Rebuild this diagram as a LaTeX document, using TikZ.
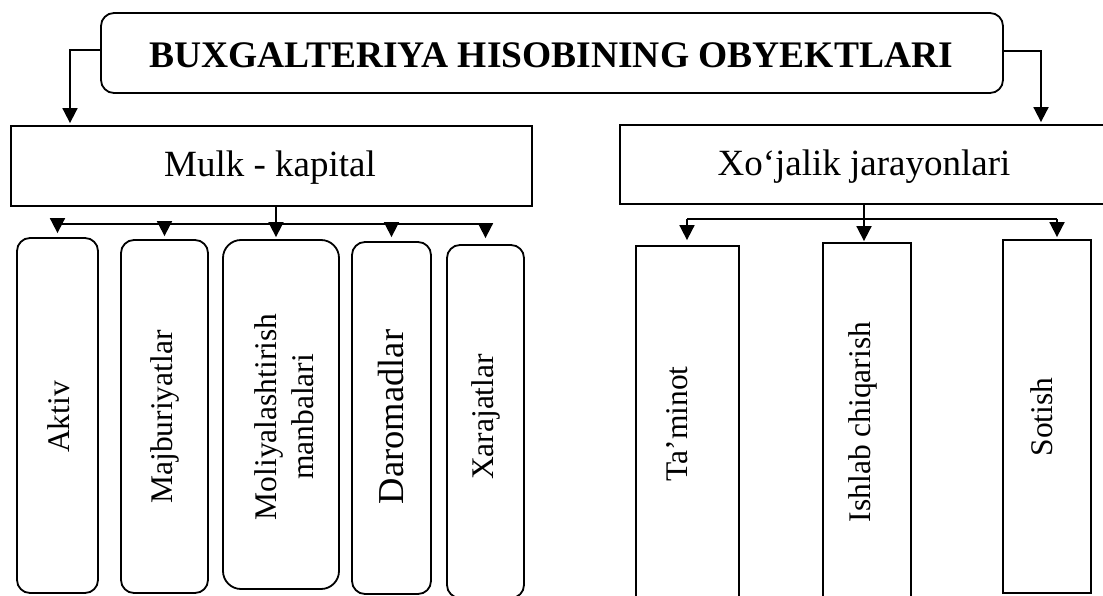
\documentclass[tikz,border=0pt]{standalone}
\usepackage{fontspec}
\setmainfont{Liberation Serif}
\usetikzlibrary{arrows.meta}

\begin{document}
\begin{tikzpicture}[x=1pt,y=-1pt,
  line width=1.8pt,
  frame/.style={draw, inner sep=0pt},
  rframe/.style={frame, rounded corners=13pt},
  arr/.style={-{Triangle[width=15pt,length=15pt]}},
  bigtext/.style={font=\fontsize{37}{42}\selectfont},
  vtext/.style={rotate=90, inner sep=0pt, align=center, font=\fontsize{31.5}{37}\selectfont}
]
\useasboundingbox (0,0) rectangle (1103,596);
\clip (0,0) rectangle (1103,596);

% title and the two groups
\node[rframe, minimum width=902pt, minimum height=80pt] (title) at (552,53) {};
\node[bigtext, font=\fontsize{37.5}{42}\selectfont\bfseries] (titleT) at (551,55) {BUXGALTERIYA HISOBINING OBYEKTLARI};

\node[frame, minimum width=521pt, minimum height=80pt] (mulk) at (271.5,166) {};
\node[bigtext] (mulkT) at (270,168) {Mulk - kapital};

\node[frame, minimum width=488pt, minimum height=79pt] (xoj) at (864,164.5) {};
\node[bigtext] (xojT) at (864,167) {Xo‘jalik jarayonlari};

% left group items
\node[rframe, minimum width=81pt, minimum height=355pt] (aktiv) at (57.5,415.5) {};
\node[vtext] (aktivT) at (59,417) {Aktiv};
\node[rframe, minimum width=87pt, minimum height=353pt] (majb) at (164.5,416.5) {};
\node[vtext] (majbT) at (164.5,417) {Majburiyatlar};
\node[rframe, rounded corners=18pt, minimum width=116pt, minimum height=349pt] (moliya) at (281,414.5) {};
\node[vtext] (moliyaT) at (284,417) {Moliyalashtirish\\manbalari};
\node[rframe, minimum width=79pt, minimum height=352pt] (darom) at (391.5,418) {};
\node[vtext, font=\fontsize{36.5}{40}\selectfont] (daromT) at (391,417) {Daromadlar};
\node[rframe, minimum width=77pt, minimum height=353pt] (xaraj) at (485.5,421.5) {};
\node[vtext] (xarajT) at (485.5,417) {Xarajatlar};

% right group items
\node[frame, minimum width=103pt, minimum height=364pt] (tamin) at (687.5,428) {};
\node[vtext] (taminT) at (677,424) {Ta’minot};
\node[frame, minimum width=88pt, minimum height=367pt] (ishlab) at (867,426.5) {};
\node[vtext] (ishlabT) at (863,422) {Ishlab chiqarish};
\node[frame, minimum width=88pt, minimum height=353pt] (sotish) at (1047,416.5) {};
\node[vtext] (sotishT) at (1042,417) {Sotish};

% branch columns and bus levels
\coordinate (lcol) at (70,0);
\coordinate (rcol) at (1041,0);
\coordinate (lbus) at (0,224);
\coordinate (lstem) at (276,224);
\coordinate (rb1) at (687,219);
\coordinate (rb3) at (1057,219);

% title to groups
\draw[arr, shorten >=2pt] ([yshift=3pt]title.west) -| (lcol |- mulk.north);
\draw[arr, shorten >=2pt] ([yshift=2pt]title.east) -| (rcol |- xoj.north);

% left bus
\draw (aktiv.north |- lbus) -- (xaraj.north |- lbus);
\draw[arr, shorten >=2pt] (lstem |- mulk.south) -- (lstem |- moliya.north);
\draw[arr, shorten >=4pt] (aktiv.north |- lbus) -- (aktiv.north);
\draw[arr, shorten >=3pt] (majb.north |- lbus) -- (majb.north);
\draw[arr, shorten >=4pt] (darom.north |- lbus) -- (darom.north);
\draw[arr, shorten >=6pt] (xaraj.north |- lbus) -- (xaraj.north);

% right bus
\draw (rb1) -- (rb3);
\draw[arr, shorten >=1pt] (xoj.south) -- (xoj.south |- ishlab.north);
\draw[arr, shorten >=5pt] (rb1) -- (rb1 |- tamin.north);
\draw[arr, shorten >=2pt] (rb3) -- (rb3 |- sotish.north);
\end{tikzpicture}
\end{document}
